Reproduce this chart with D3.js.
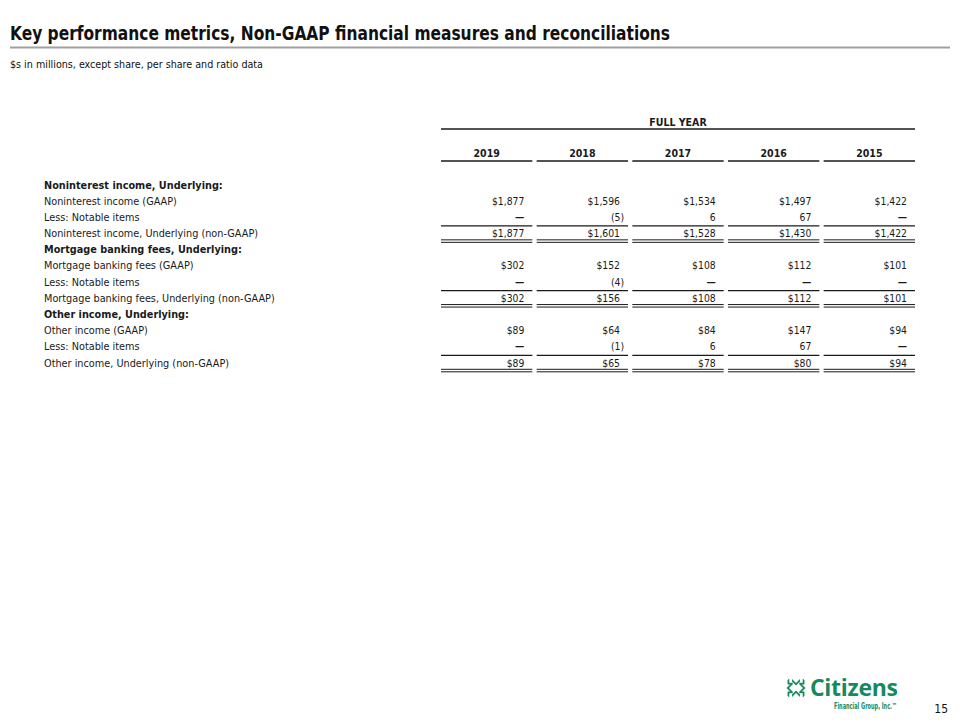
<!DOCTYPE html>
<html><head><meta charset="utf-8">
<script src="https://cdn.jsdelivr.net/npm/d3@7/dist/d3.min.js"></script>
<style>body{margin:0;background:#fff}svg{display:block}</style>
</head><body>
<svg id="c" width="960" height="720"></svg>
<script>
const years = ["2019","2018","2017","2016","2015"];
const rowLabels = [
  "Noninterest income, Underlying:",
  "Noninterest income (GAAP)",
  "Less: Notable items",
  "Noninterest income, Underlying (non-GAAP)",
  "Mortgage banking fees, Underlying:",
  "Mortgage banking fees (GAAP)",
  "Less: Notable items",
  "Mortgage banking fees, Underlying (non-GAAP)",
  "Other income, Underlying:",
  "Other income (GAAP)",
  "Less: Notable items",
  "Other income, Underlying (non-GAAP)"
];
const rowTypes = ["header","gaap","less","total","header","gaap","less","total","header","gaap","less","total"];
const nonInterestGAAP = ["$1,877","$1,596","$1,534","$1,497","$1,422"];
const nonInterestNotable = ["—","(5)","6","67","—"];
const nonInterestUnderlying = ["$1,877","$1,601","$1,528","$1,430","$1,422"];
const mortgageGAAP = ["$302","$152","$108","$112","$101"];
const mortgageNotable = ["—","(4)","—","—","—"];
const mortgageUnderlying = ["$302","$156","$108","$112","$101"];
const otherGAAP = ["$89","$64","$84","$147","$94"];
const otherNotable = ["—","(1)","6","67","—"];
const otherUnderlying = ["$89","$65","$78","$80","$94"];
const rowValues = [null, nonInterestGAAP, nonInterestNotable, nonInterestUnderlying,
  null, mortgageGAAP, mortgageNotable, mortgageUnderlying,
  null, otherGAAP, otherNotable, otherUnderlying];

const svg = d3.select("#c");
const FONT = "'DejaVu Sans Condensed', 'DejaVu Sans', sans-serif";
const ink = "#1a1a1a";

// Title
svg.append("text").attr("x",10).attr("y",40).attr("font-family",FONT).attr("font-weight","bold")
  .attr("font-size",19).attr("fill","#111").attr("textLength",660).attr("lengthAdjust","spacingAndGlyphs")
  .text("Key performance metrics, Non-GAAP financial measures and reconciliations");
svg.append("rect").attr("x",10).attr("y",46.5).attr("width",940).attr("height",2).attr("fill","#a0a0a0");
svg.append("text").attr("x",10).attr("y",68).attr("font-family",FONT).attr("font-size",11).attr("fill","#111")
  .attr("textLength",253).attr("lengthAdjust","spacingAndGlyphs")
  .text("$s in millions, except share, per share and ratio data");

// Scales
const x = d3.scaleBand().domain(years).range([441,915]).paddingInner(0.045);
const y = d3.scalePoint().domain(d3.range(rowLabels.length)).range([185,363]);

// Header
svg.append("text").attr("x",(441+915)/2).attr("y",126).attr("text-anchor","middle").attr("font-family",FONT)
  .attr("font-weight","bold").attr("font-size",10.5).attr("fill",ink).text("FULL YEAR");
svg.append("line").attr("x1",441).attr("x2",915).attr("y1",129).attr("y2",129).attr("stroke",ink).attr("stroke-width",1.5);
const yh = svg.append("g");
yh.selectAll("text").data(years).join("text").attr("x",d=>x(d)+x.bandwidth()/2).attr("y",157)
  .attr("text-anchor","middle").attr("font-family",FONT).attr("font-weight","bold").attr("font-size",10.5)
  .attr("fill",ink).text(d=>d);
yh.selectAll("line").data(years).join("line").attr("x1",d=>x(d)).attr("x2",d=>x(d)+x.bandwidth())
  .attr("y1",161).attr("y2",161).attr("stroke",ink).attr("stroke-width",1.5);

// Row labels
svg.append("g").selectAll("text").data(rowLabels).join("text")
  .attr("x",44).attr("y",(d,i)=>y(i)+3.5).attr("font-family",FONT).attr("font-size",10.8)
  .attr("font-weight",(d,i)=>rowTypes[i]==="header"?"bold":"normal").attr("fill",ink).text(d=>d);

// Values
rowValues.forEach((vals,i)=>{
  if(!vals) return;
  const g = svg.append("g");
  g.selectAll("text").data(vals).join("text")
    .attr("x",(d,j)=>x(years[j])+x.bandwidth()-8+(d.endsWith(")")?4:0))
    .attr("y",y(i)+3.5).attr("text-anchor","end").attr("font-family",FONT).attr("font-size",10.3)
    .attr("font-weight",d=>d==="—"?"bold":"normal")
    .attr("fill",ink).text(d=>d);
  if(rowTypes[i]==="less"){
    const ly = (y(i)+y(i+1))/2+0.5;
    g.selectAll("line.s").data(years).join("line").attr("class","s").attr("x1",d=>x(d)).attr("x2",d=>x(d)+x.bandwidth())
      .attr("y1",ly).attr("y2",ly).attr("stroke",ink).attr("stroke-width",1.2);
  }
  if(rowTypes[i]==="total"){
    [y(i)+6.3,y(i)+8.8].forEach((ly,k)=>{
      g.selectAll("line.d"+k).data(years).join("line").attr("class","d"+k).attr("x1",d=>x(d)).attr("x2",d=>x(d)+x.bandwidth())
        .attr("y1",ly).attr("y2",ly).attr("stroke",ink).attr("stroke-width",1);
    });
  }
});

// Logo
const green = "#168a5c";
const logo = svg.append("g").attr("transform","translate(796,688)");
[[0,-6,0],[0,6,180],[-6,0,90],[6,0,-90]].forEach(([dx,dy,r])=>{
  logo.append("path").attr("d","M-4,-3 L0,1 L4,-3 L4,-0.5 L0,3.5 L-4,-0.5 Z").attr("fill",green)
    .attr("transform",`translate(${dx},${dy}) rotate(${r})`);
});
[[-6,-6,45],[6,-6,-45],[-6,6,135],[6,6,-135]].forEach(([dx,dy,r])=>{
  logo.append("path").attr("d","M-3,-2 L0,1 L3,-2 L3,0.5 L0,3.5 L-3,0.5 Z").attr("fill",green)
    .attr("transform",`translate(${dx},${dy}) rotate(${r})`);
});
svg.append("text").attr("x",810).attr("y",696).attr("font-family","'Open Sans', sans-serif").attr("font-weight","bold")
  .attr("font-size",23).attr("fill",green).attr("textLength",88).text("Citizens");
svg.append("text").attr("x",834).attr("y",709).attr("font-family",FONT).attr("font-weight","bold")
  .attr("font-size",8).attr("fill",green).attr("textLength",63).attr("lengthAdjust","spacingAndGlyphs")
  .text("Financial Group, Inc.™");
svg.append("text").attr("x",948).attr("y",713).attr("text-anchor","end").attr("font-family",FONT)
  .attr("font-size",12).attr("fill","#111").text("15");
</script>
</body></html>
